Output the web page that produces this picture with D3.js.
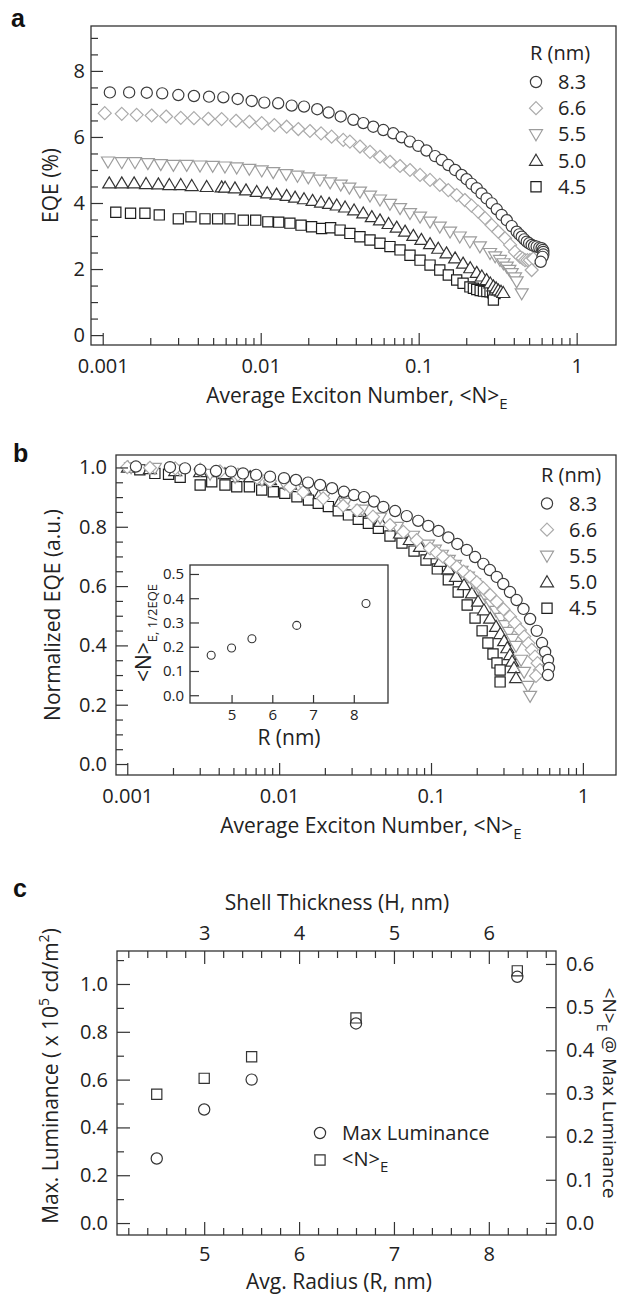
<!DOCTYPE html>
<meta charset="utf-8">
<style>
body { margin: 0; background: #fff; }
svg { font-family: 'Open Sans', sans-serif; }
.frame { fill: none; stroke: #333; stroke-width: 1.3; }
.axis line { stroke: #333; stroke-width: 1.2; }
.axis text { font-family: 'Open Sans', sans-serif; font-size: 20px; fill: #222; }
.inset .axis text { font-size: 15px; }
.lbl { fill: #222; font-size: 21px; }
.leg { fill: #222; font-size: 20px; }
.letter { font-family: 'Liberation Sans', Arial, sans-serif; font-weight: bold; font-size: 25px; fill: #111; }
</style>
<body>
<script src="https://d3js.org/d3.v7.min.js"></script>
<script>

// ---------- data ----------
var radii = ["8.3", "6.6", "5.5", "5.0", "4.5"];

// panel a : EQE (%) vs average exciton number
var aN83 = [0.00111,0.00147,0.00190,0.00238,0.00301,0.00378,0.00471,0.00580,0.00715,0.00877,0.01054,0.0129,0.0157,0.0188,0.0228,0.0269,0.0321,0.0386,0.0446,0.0516,0.0597,0.0690,0.0780,0.0880,0.0994,0.112,0.127,0.140,0.154,0.170,0.187,0.201,0.216,0.233,0.250,0.269,0.290,0.312,0.335,0.361,0.388,0.417,0.433,0.449,0.466,0.483,0.500,0.519,0.538,0.558,0.580,0.600,0.612,0.615,0.615,0.608,0.592];
var aE83 = [7.35,7.35,7.34,7.32,7.27,7.24,7.22,7.20,7.15,7.09,7.04,7.02,6.95,6.92,6.84,6.74,6.62,6.52,6.42,6.31,6.21,6.11,5.99,5.86,5.73,5.59,5.42,5.30,5.15,5.00,4.85,4.72,4.58,4.45,4.29,4.14,3.99,3.81,3.64,3.48,3.30,3.13,3.05,2.98,2.90,2.83,2.78,2.73,2.70,2.68,2.65,2.63,2.58,2.52,2.44,2.37,2.22];

var aN66 = [0.00103,0.00132,0.00164,0.00204,0.00252,0.00312,0.00378,0.00466,0.00566,0.00698,0.00847,0.01015,0.0122,0.0146,0.0173,0.0205,0.0241,0.0281,0.0333,0.0367,0.0425,0.0492,0.0569,0.0658,0.0762,0.0881,0.102,0.118,0.136,0.154,0.174,0.196,0.216,0.238,0.263,0.290,0.319,0.352,0.379,0.407,0.438,0.455,0.471,0.488,0.506,0.531,0.519];
var aE66 = [6.72,6.70,6.67,6.65,6.62,6.58,6.57,6.55,6.54,6.49,6.46,6.42,6.36,6.31,6.24,6.18,6.11,6.01,5.91,5.86,5.71,5.55,5.40,5.25,5.12,5.00,4.85,4.70,4.55,4.39,4.24,4.09,3.92,3.74,3.54,3.33,3.13,2.93,2.73,2.52,2.37,2.32,2.27,2.27,2.27,2.32,1.97];

var aN55 = [0.00108,0.00132,0.00160,0.00193,0.00233,0.00280,0.00340,0.00413,0.00497,0.00594,0.00705,0.00847,0.01015,0.0120,0.0145,0.0171,0.0200,0.0237,0.0275,0.0321,0.0364,0.0425,0.0492,0.0569,0.0658,0.0762,0.0881,0.102,0.118,0.136,0.158,0.182,0.211,0.244,0.283,0.305,0.327,0.344,0.361,0.375,0.388,0.407,0.417,0.449];
var aE55 = [5.25,5.23,5.23,5.20,5.17,5.15,5.15,5.13,5.12,5.10,5.07,5.03,4.98,4.93,4.87,4.82,4.77,4.70,4.62,4.55,4.46,4.34,4.22,4.10,3.97,3.84,3.69,3.58,3.43,3.28,3.13,2.98,2.83,2.68,2.48,2.38,2.27,2.17,2.07,1.97,1.87,1.74,1.62,1.26];

var aN50 = [0.00110,0.00132,0.00158,0.00188,0.00225,0.00264,0.00312,0.00366,0.00455,0.00566,0.00595,0.00687,0.00807,0.00944,0.0110,0.0126,0.0146,0.0165,0.0188,0.0213,0.0241,0.0271,0.0303,0.0342,0.0390,0.0446,0.0505,0.0569,0.0645,0.0726,0.082,0.0925,0.104,0.118,0.133,0.150,0.170,0.191,0.212,0.233,0.251,0.269,0.284,0.297,0.309,0.319,0.332,0.343];
var aE50 = [4.60,4.60,4.60,4.58,4.57,4.55,4.55,4.52,4.49,4.48,4.47,4.45,4.39,4.34,4.30,4.26,4.22,4.17,4.12,4.07,4.02,3.98,3.93,3.87,3.78,3.69,3.58,3.48,3.37,3.26,3.14,3.01,2.89,2.76,2.62,2.48,2.33,2.17,2.03,1.89,1.78,1.67,1.57,1.48,1.42,1.36,1.32,1.28];

var aN45 = [0.00121,0.00150,0.00185,0.00228,0.00301,0.00362,0.00444,0.00534,0.00639,0.00776,0.00930,0.0111,0.0130,0.0153,0.0180,0.0210,0.0243,0.0277,0.0318,0.0367,0.0425,0.0492,0.0569,0.0658,0.0762,0.0881,0.102,0.118,0.136,0.154,0.174,0.191,0.211,0.222,0.233,0.245,0.257,0.270,0.283,0.294,0.304,0.297];
var aE45 = [3.72,3.69,3.69,3.64,3.52,3.58,3.52,3.52,3.52,3.48,3.48,3.43,3.42,3.39,3.33,3.28,3.23,3.25,3.18,3.08,2.98,2.88,2.78,2.68,2.58,2.42,2.27,2.12,1.97,1.82,1.67,1.57,1.46,1.42,1.38,1.35,1.33,1.32,1.31,1.28,1.26,1.06];

// panel b : normalized EQE
var bN83 = [0.00114,0.00191,0.00240,0.00302,0.00384,0.00482,0.00578,0.00705,0.00871,0.01077,0.0129,0.0155,0.0186,0.0223,0.0267,0.0311,0.0362,0.0421,0.0485,0.0580,0.0692,0.0824,0.0959,0.112,0.130,0.149,0.172,0.195,0.221,0.244,0.271,0.299,0.331,0.366,0.406,0.449,0.497,0.538,0.564,0.589,0.598,0.589];
var bV83 = [1.003,1.001,0.997,0.992,0.988,0.986,0.980,0.975,0.969,0.964,0.958,0.949,0.941,0.930,0.918,0.907,0.900,0.885,0.867,0.853,0.836,0.820,0.803,0.786,0.764,0.742,0.722,0.698,0.675,0.654,0.631,0.607,0.580,0.553,0.523,0.489,0.449,0.408,0.378,0.351,0.324,0.300];

var bN66 = [0.0010,0.00141,0.00207,0.00302,0.00408,0.00536,0.00716,0.00871,0.0118,0.0144,0.0195,0.0264,0.0326,0.0415,0.0537,0.0658,0.0805,0.0985,0.109,0.120,0.134,0.148,0.164,0.181,0.200,0.221,0.245,0.271,0.300,0.331,0.357,0.385,0.411,0.438,0.461,0.484,0.503,0.522,0.491];
var bV66 = [1.001,0.999,0.997,0.993,0.987,0.976,0.965,0.954,0.934,0.917,0.896,0.871,0.855,0.834,0.806,0.783,0.755,0.727,0.713,0.699,0.682,0.665,0.649,0.632,0.613,0.593,0.570,0.547,0.522,0.497,0.475,0.452,0.430,0.407,0.385,0.362,0.340,0.317,0.297];

var bN55 = [0.00106,0.00152,0.00223,0.00351,0.00513,0.00771,0.0109,0.0148,0.0201,0.0272,0.0352,0.0462,0.0597,0.0761,0.0955,0.106,0.118,0.131,0.144,0.159,0.175,0.192,0.210,0.229,0.248,0.268,0.289,0.308,0.327,0.345,0.363,0.392,0.410,0.435,0.449];
var bV55 = [1.000,0.998,0.992,0.978,0.968,0.958,0.944,0.927,0.907,0.880,0.857,0.830,0.799,0.769,0.739,0.722,0.705,0.688,0.671,0.651,0.631,0.609,0.587,0.564,0.540,0.516,0.492,0.468,0.445,0.421,0.398,0.351,0.310,0.263,0.229];

var bN50 = [0.00101,0.00141,0.00207,0.00302,0.00440,0.00644,0.00871,0.0118,0.0148,0.0186,0.0252,0.0341,0.0462,0.0625,0.0725,0.0846,0.0985,0.115,0.130,0.146,0.165,0.186,0.204,0.223,0.245,0.268,0.286,0.303,0.318,0.331,0.342,0.352,0.363];
var bV50 = [1.000,0.995,0.988,0.985,0.978,0.968,0.958,0.943,0.927,0.911,0.885,0.851,0.817,0.778,0.756,0.733,0.708,0.682,0.657,0.632,0.604,0.576,0.548,0.519,0.491,0.463,0.439,0.415,0.391,0.368,0.346,0.324,0.290];

var bN45 = [0.00121,0.00152,0.00187,0.00223,0.00302,0.00360,0.00440,0.00526,0.00637,0.00768,0.00916,0.0109,0.0131,0.0156,0.0181,0.0211,0.0245,0.0286,0.0332,0.0387,0.0450,0.0537,0.0644,0.0773,0.0927,0.110,0.130,0.151,0.173,0.195,0.217,0.237,0.256,0.272,0.285,0.285];
var bV45 = [0.992,0.980,0.977,0.967,0.941,0.952,0.941,0.935,0.935,0.924,0.918,0.913,0.901,0.890,0.879,0.868,0.854,0.840,0.825,0.812,0.795,0.769,0.745,0.718,0.688,0.658,0.621,0.580,0.536,0.492,0.449,0.408,0.371,0.341,0.317,0.277];

// panel b inset : <N>E at half EQE vs R
var insetR = [4.5, 5.0, 5.5, 6.6, 8.3];
var insetN = [0.165, 0.195, 0.233, 0.288, 0.378];

// panel c
var cR = [4.5, 5.0, 5.5, 6.6, 8.3];
var cLum = [0.27, 0.475, 0.60, 0.835, 1.03];
var cNE = [0.298, 0.335, 0.385, 0.475, 0.584];

// ticks / labels
var logMajor = [0.001, 0.01, 0.1, 1];
var logLabels = ["0.001", "0.01", "0.1", "1"];
var aYTicks = [0, 2, 4, 6, 8];
var bYTicks = [0, 0.2, 0.4, 0.6, 0.8, 1.0];
var insetYTicks = [0, 0.1, 0.2, 0.3, 0.4, 0.5];
var insetXTicks = [5, 6, 7, 8];
var cRTicks = [5, 6, 7, 8];
var cHTicks = [3, 4, 5, 6];
var cLeftTicks = [0, 0.2, 0.4, 0.6, 0.8, 1.0];
var cRightTicks = [0, 0.1, 0.2, 0.3, 0.4, 0.5, 0.6];

// ---------- styles ----------
var shapes = ["circle", "diamond", "triDown", "triUp", "square"];
var colors = ["#3c3c3c", "#ababab", "#9c9c9c", "#333", "#1e1e1e"];

function shapePath(s) {
  if (s == "circle") return d3.symbol(d3.symbolCircle, Math.PI * 5.6 * 5.6)();
  if (s == "square") return d3.symbol(d3.symbolSquare, 104)();
  if (s == "diamond") return "M0,-6.5L6.5,0L0,6.5L-6.5,0Z";
  if (s == "triUp") return "M0,-6.3L6.5,4.7L-6.5,4.7Z";
  if (s == "triDown") return "M0,6.3L6.5,-4.7L-6.5,-4.7Z";
}

var fmt1 = d3.format(".1f");
var fmtInt = d3.format("d");

var svg = d3.select("body").append("svg")
    .attr("width", 624)
    .attr("height", 1295);

function addAxis(g, gen) {
  g.attr("class", "axis").call(gen);
  g.attr("font-size", null).attr("font-family", null);
  g.select(".domain").remove();
  return g;
}

function frame(g, x, y) {
  g.append("rect")
    .attr("class", "frame")
    .attr("x", x.range()[0])
    .attr("y", y.range()[1])
    .attr("width", x.range()[1] - x.range()[0])
    .attr("height", y.range()[0] - y.range()[1]);
}

function logMinor(x) {
  return x.ticks().filter(function(d) {
    return d >= 0.001 && Math.abs(Math.log10(d) - Math.round(Math.log10(d))) > 1e-6;
  });
}

function drawSeries(g, x, y, list) {
  // draw from last to first so circles end up on top
  list.slice().reverse().forEach(function(s) {
    var rows = s.n.map(function(n, i) { return {n: n, v: s.v[i]}; });
    g.append("g").selectAll("path")
      .data(rows)
      .join("path")
        .attr("transform", function(d) { return "translate(" + x(d.n) + "," + y(d.v) + ")"; })
        .attr("d", shapePath(s.shape))
        .attr("fill", "#fff")
        .attr("stroke", s.color)
        .attr("stroke-width", 1.2);
  });
}

function legend(g, x0, y0, step) {
  g.append("text").attr("class", "leg")
    .attr("x", x0 - 6).attr("y", y0 - 22)
    .text("R (nm)");
  radii.forEach(function(r, i) {
    g.append("path")
      .attr("transform", "translate(" + x0 + "," + (y0 + i * step) + ")")
      .attr("d", shapePath(shapes[i]))
      .attr("fill", "#fff")
      .attr("stroke", colors[i])
      .attr("stroke-width", 1.2);
    g.append("text").attr("class", "leg")
      .attr("x", x0 + 22).attr("y", y0 + i * step + 7)
      .text(r);
  });
}

function xTitle(g, cx, y) {
  var t = g.append("text").attr("class", "lbl")
    .attr("x", cx).attr("y", y)
    .attr("text-anchor", "middle");
  t.append("tspan").text("Average Exciton Number, <N>");
  t.append("tspan").attr("dy", 6).attr("font-size", 15).text("E");
}

// ---------- panel a ----------
var aX = d3.scaleLog().domain([0.000843, 1.774]).range([91, 616]);
var aY = d3.scaleLinear().domain([-0.30, 9.36]).range([345, 26]);
var ga = svg.append("g");

drawSeries(ga, aX, aY, radii.map(function(r, i) {
  return {n: [aN83, aN66, aN55, aN50, aN45][i], v: [aE83, aE66, aE55, aE50, aE45][i], shape: shapes[i], color: colors[i]};
}));
frame(ga, aX, aY);

addAxis(ga.append("g").attr("transform", "translate(0,345)"),
  d3.axisBottom(aX).tickValues(logMajor).tickFormat(function(d, i) { return logLabels[i]; }).tickSize(-12).tickPadding(14));
addAxis(ga.append("g").attr("transform", "translate(0,345)"),
  d3.axisBottom(aX).tickValues(logMinor(aX)).tickFormat("").tickSize(-7));
addAxis(ga.append("g").attr("transform", "translate(91,0)"),
  d3.axisLeft(aY).tickValues(aYTicks).tickFormat(fmtInt).tickSize(-12).tickPadding(6));
addAxis(ga.append("g").attr("transform", "translate(91,0)"),
  d3.axisLeft(aY).tickValues(d3.range(0, 9.01, 0.5).filter(function(d) { return d % 2 != 0; })).tickFormat("").tickSize(-7));

legend(ga, 536, 82, 26.2);
xTitle(ga, 357, 403);
ga.append("text").attr("class", "lbl")
  .attr("transform", "translate(58,185.5) rotate(-90)")
  .attr("text-anchor", "middle")
  .text("EQE (%)");
ga.append("text").attr("class", "letter").attr("x", 11).attr("y", 27).text("a");

// ---------- panel b ----------
var bX = d3.scaleLog().domain([0.000843, 1.652]).range([116, 616]);
var bY = d3.scaleLinear().domain([-0.037, 1.042]).range([775, 455]);
var gb = svg.append("g");

drawSeries(gb, bX, bY, radii.map(function(r, i) {
  return {n: [bN83, bN66, bN55, bN50, bN45][i], v: [bV83, bV66, bV55, bV50, bV45][i], shape: shapes[i], color: colors[i]};
}));
frame(gb, bX, bY);

addAxis(gb.append("g").attr("transform", "translate(0,775)"),
  d3.axisBottom(bX).tickValues(logMajor).tickFormat(function(d, i) { return logLabels[i]; }).tickSize(-12).tickPadding(14));
addAxis(gb.append("g").attr("transform", "translate(0,775)"),
  d3.axisBottom(bX).tickValues(logMinor(bX)).tickFormat("").tickSize(-7));
addAxis(gb.append("g").attr("transform", "translate(116,0)"),
  d3.axisLeft(bY).tickValues(bYTicks).tickFormat(fmt1).tickSize(-12).tickPadding(9));
addAxis(gb.append("g").attr("transform", "translate(116,0)"),
  d3.axisLeft(bY).tickValues(d3.range(0, 20).map(function(i) { return i * 0.05; }).filter(function(d, i) { return i % 4 != 0; })).tickFormat("").tickSize(-7));

legend(gb, 547, 503.5, 26.2);
xTitle(gb, 371, 833);
gb.append("text").attr("class", "lbl")
  .attr("transform", "translate(60,615) rotate(-90)")
  .attr("text-anchor", "middle")
  .text("Normalized EQE (a.u.)");
gb.append("text").attr("class", "letter").attr("x", 13).attr("y", 462).text("b");

// inset
var iX = d3.scaleLinear().domain([3.98, 8.84]).range([190, 388]);
var iY = d3.scaleLinear().domain([-0.032, 0.537]).range([703, 565]);
var gi = gb.append("g").attr("class", "inset");
gi.append("rect")
  .attr("x", 190).attr("y", 565).attr("width", 198).attr("height", 138)
  .attr("fill", "#fff");
frame(gi, iX, iY);
addAxis(gi.append("g").attr("transform", "translate(0,703)"),
  d3.axisBottom(iX).tickValues(insetXTicks).tickFormat(fmtInt).tickSize(-8).tickPadding(6));
addAxis(gi.append("g").attr("transform", "translate(190,0)"),
  d3.axisLeft(iY).tickValues(insetYTicks).tickFormat(fmt1).tickSize(-9).tickPadding(6));
gi.selectAll("circle.pt")
  .data(insetR)
  .join("circle")
    .attr("class", "pt")
    .attr("cx", function(d) { return iX(d); })
    .attr("cy", function(d, i) { return iY(insetN[i]); })
    .attr("r", 4)
    .attr("fill", "#fff")
    .attr("stroke", "#333")
    .attr("stroke-width", 1.1);
gi.append("text").attr("class", "lbl")
  .attr("x", 289).attr("y", 745).attr("font-size", 19)
  .attr("text-anchor", "middle")
  .text("R (nm)");
var it = gi.append("text").attr("class", "lbl")
  .attr("transform", "translate(151,633) rotate(-90)")
  .attr("text-anchor", "middle")
  .attr("font-size", 20);
it.append("tspan").text("<N>");
it.append("tspan").attr("dy", 6).style("font-size", "13px").text("E, 1/2EQE");

// ---------- panel c ----------
var cX = d3.scaleLinear().domain([4.081, 8.708]).range([117, 556]);
var cH = d3.scaleLinear().domain([2.081, 6.708]).range([117, 556]);
var cYL = d3.scaleLinear().domain([-0.050, 1.138]).range([1235, 951]);
var cYR = d3.scaleLinear().domain([-0.028, 0.630]).range([1235, 951]);
var gc = svg.append("g");

frame(gc, cX, cYL);
var cMinor = d3.range(21, 44).map(function(i) { return i * 0.2; }).filter(function(d) { return Math.abs(d - Math.round(d)) > 0.01; });
addAxis(gc.append("g").attr("transform", "translate(0,1235)"),
  d3.axisBottom(cX).tickValues(cRTicks).tickFormat(fmtInt).tickSize(-13).tickPadding(12));
addAxis(gc.append("g").attr("transform", "translate(0,1235)"),
  d3.axisBottom(cX).tickValues(cMinor).tickFormat("").tickSize(-7));
addAxis(gc.append("g").attr("transform", "translate(0,951)"),
  d3.axisTop(cH).tickValues(cHTicks).tickFormat(fmtInt).tickSize(-13).tickPadding(11));
addAxis(gc.append("g").attr("transform", "translate(0,951)"),
  d3.axisTop(cH).tickValues(cMinor.map(function(d) { return d - 2; })).tickFormat("").tickSize(-7));
addAxis(gc.append("g").attr("transform", "translate(117,0)"),
  d3.axisLeft(cYL).tickValues(cLeftTicks).tickFormat(fmt1).tickSize(-13).tickPadding(9));
addAxis(gc.append("g").attr("transform", "translate(117,0)"),
  d3.axisLeft(cYL).tickValues([0.1, 0.3, 0.5, 0.7, 0.9, 1.1]).tickFormat("").tickSize(-7));
addAxis(gc.append("g").attr("transform", "translate(556,0)"),
  d3.axisRight(cYR).tickValues(cRightTicks).tickFormat(fmt1).tickSize(-10).tickPadding(10));

gc.append("g").selectAll("path")
  .data(cR)
  .join("path")
    .attr("transform", function(d, i) { return "translate(" + cX(d) + "," + cYR(cNE[i]) + ")"; })
    .attr("d", shapePath("square"))
    .attr("fill", "none")
    .attr("stroke", "#333")
    .attr("stroke-width", 1.2);
gc.append("g").selectAll("path")
  .data(cR)
  .join("path")
    .attr("transform", function(d, i) { return "translate(" + cX(d) + "," + cYL(cLum[i]) + ")"; })
    .attr("d", shapePath("circle"))
    .attr("fill", "none")
    .attr("stroke", "#333")
    .attr("stroke-width", 1.2);

// legend c
gc.append("path").attr("transform", "translate(320,1133)").attr("d", shapePath("circle"))
  .attr("fill", "none").attr("stroke", "#333").attr("stroke-width", 1.2);
gc.append("path").attr("transform", "translate(320,1160)").attr("d", shapePath("square"))
  .attr("fill", "none").attr("stroke", "#333").attr("stroke-width", 1.2);
gc.append("text").attr("class", "leg").attr("x", 342).attr("y", 1140).text("Max Luminance");
var lt = gc.append("text").attr("class", "leg").attr("x", 342).attr("y", 1166);
lt.append("tspan").text("<N>");
lt.append("tspan").attr("dy", 6).style("font-size", "15px").text("E");

// titles c
gc.append("text").attr("class", "lbl")
  .attr("x", 337).attr("y", 910).attr("text-anchor", "middle")
  .text("Shell Thickness (H, nm)");
gc.append("text").attr("class", "lbl")
  .attr("x", 339).attr("y", 1289).attr("text-anchor", "middle")
  .text("Avg. Radius (R, nm)");
var ylt = gc.append("text").attr("class", "lbl")
  .attr("transform", "translate(58,1076) rotate(-90)")
  .attr("text-anchor", "middle");
ylt.append("tspan").text("Max. Luminance ( x 10");
ylt.append("tspan").attr("dy", -9).style("font-size", "14px").text("5");
ylt.append("tspan").attr("dy", 9).text(" cd/m");
ylt.append("tspan").attr("dy", -9).style("font-size", "14px").text("2");
ylt.append("tspan").attr("dy", 9).text(")");
var yrt = gc.append("text").attr("class", "lbl")
  .attr("transform", "translate(603,1093) rotate(90)")
  .attr("text-anchor", "middle")
  .style("font-size", "19px");
yrt.append("tspan").text("<N>");
yrt.append("tspan").attr("dy", 6).style("font-size", "14px").text("E");
yrt.append("tspan").attr("dy", -6).text(" @ Max Luminance");
gc.append("text").attr("class", "letter").attr("x", 13).attr("y", 897).text("c");

</script>
